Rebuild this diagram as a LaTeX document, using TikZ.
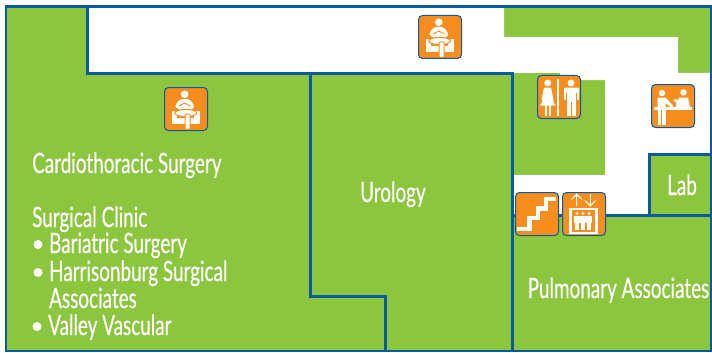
\documentclass[tikz,border=0pt]{standalone}
\usepackage{fontspec}
\setmainfont[FakeStretch=0.675,FakeBold=0.35]{Lato}
\usepackage{tikz}
\usetikzlibrary{positioning}
\definecolor{roomgreen}{HTML}{8CC63F}
\definecolor{wallblue}{HTML}{0A5A9E}
\definecolor{signorange}{HTML}{F78D1F}
\tikzset{
  roomlabel/.style={text=white,font=\fontsize{28}{28}\selectfont,inner sep=0pt,anchor=base west},
  wall/.style={draw=wallblue,line width=3pt,line join=miter},
  signbox/.style={draw=wallblue,line width=1pt,fill=signorange,rounded corners=4pt,minimum size=43pt,inner sep=0pt},
  pics/waiting/.style={code={
    \node[signbox] (-box) at (0,0) {};
    \fill[white] (-1.3,-14.7) circle (3.8);
    \fill[white] (-14.3,2.3) rectangle (-9,14.7);
    \fill[white] (8,2.3) rectangle (13.7,14.7);
    \fill[white] (-14.3,9) rectangle (13.7,14.7);
    \fill[white] (-4,-10) .. controls (-8,-9) and (-10.5,-5) .. (-10.5,-2) -- (-6,1) -- (5,1) -- (8,-2) .. controls (8,-5) and (5,-9) .. (1.5,-10) -- cycle;
    \draw[signorange,line width=0.9pt] (-7,-3) -- (-1.3,-6) -- (4.5,-3);
    \fill[white,draw=signorange,line width=1pt] (-0.3,4) ellipse (11 and 3.6);
    \fill[white,draw=signorange,line width=1pt,rounded corners=1pt] (-1,5) rectangle (4,20.5);
  }},
  pics/restroom/.style={code={
    \node[signbox] (-box) at (0,0) {};
    \fill[white] (-11.3,-14) circle (3.5);
    \fill[white] (12,-14) circle (3.5);
    \fill[white] (-2.3,-18.5) rectangle (0.4,18.5);
    % woman
    \fill[white] (-15,-9.5) -- (-8,-9.5) -- (-5.5,3) -- (-7,4) -- (-8.5,0) -- (-3.5,8.5) -- (-19,8.5) -- (-14,0) -- (-15.5,4) -- (-17.5,3) -- cycle;
    \fill[white] (-14.5,8) rectangle (-12.2,18.5);
    \fill[white] (-10.5,8) rectangle (-8.2,18.5);
    % man
    \fill[white,rounded corners=1pt] (5,-9.5) rectangle (20,3);
    \fill[signorange] (7,-4) rectangle (7.9,3.5);
    \fill[signorange] (17.2,-4) rectangle (18.1,3.5);
    \fill[white] (7.9,0) rectangle (17.2,5);
    \fill[white] (7.9,4) rectangle (11.9,18.5);
    \fill[white] (13,4) rectangle (17.2,18.5);
  }},
  pics/reception/.style={code={
    \node[signbox] (-box) at (0,0) {};
    \fill[white] (-11,-13) circle (3.2);
    \fill[white] (10.5,-13.5) circle (3.2);
    \fill[white] (-18.7,1.3) rectangle (19,4.3);
    \fill[white] (-15.5,-8.5) -- (-7.5,-8.5) -- (0.5,0) -- (-2,1.5) -- (-7.5,-3) -- (-7.5,1.5) -- (-15.5,1.5) -- cycle;
    \fill[white] (-15.5,3) rectangle (-12,18.5);
    \fill[white] (-11,3) rectangle (-7.5,18.5);
    \fill[white] (0,-6) -- (3,-7) -- (5,-5) -- (6,-8.5) -- (15,-8.5) -- (17,1.5) -- (3,1.5) -- (3.5,-3) -- cycle;
  }},
  pics/stairs/.style={code={
    \node[signbox] (-box) at (0,0) {};
    \draw[white,line width=4.4pt] (-20,14.7) -- (-7.5,14.7) -- (-7.5,3.7) -- (1,3.7) -- (1,-5.5) -- (9,-5.5) -- (9,-15) -- (19,-15);
  }},
  pics/elevator/.style={code={
    \node[signbox] (-box) at (0,0) {};
    \draw[white,line width=1pt] (-7.3,-8) -- (-7.3,-20) (-12.5,-14.5) -- (-7.3,-20) -- (-2,-14.5);
    \draw[white,line width=1pt] (6.3,-20) -- (6.3,-8) (1,-13.5) -- (6.3,-8) -- (11.5,-13.5);
    \draw[white,line width=2.6pt] (-13.7,-5) rectangle (12.3,19);
    \foreach \px in {-7,-1,5}{
      \fill[white] (\px,-0.5) circle (1.6);
      \fill[white] (\px-2.6,1.5) rectangle (\px+2.6,9);
      \fill[white] (\px-2,9) rectangle (\px+2,15.5);
    }
  }},
}
\begin{document}
\begin{tikzpicture}[x=1pt,y=-1pt,node distance=27pt,on grid]
  \useasboundingbox (0,0) rectangle (712,353);
  % floor and corridor
  \fill[roomgreen] (6,6) rectangle (711,351);
  \fill[white] (87,6) -- (504,6) -- (504,37) -- (678,37) -- (678,73) -- (711,73) -- (711,154)
    -- (649,154) -- (649,215) -- (512,215) -- (512,175) -- (605,175) -- (605,80) -- (560,80)
    -- (560,73) -- (87,73) -- cycle;
  % walls
  \draw[wall,line width=2.5pt] (6,6.5) -- (711,6.5) -- (711,351) -- (6,351) -- cycle;
  \draw[wall] (87,6) -- (87,74) -- (512,74) -- (512,351);
  \draw[wall] (310,74) -- (310,296) -- (385,296) -- (385,351);
  \draw[wall] (512,215) -- (711,215);
  \draw[wall] (649,215) -- (649,154) -- (711,154);
  % signs
  \pic (waitwest) at (186,109) {waiting};
  \pic (waitnorth) at (440,37) {waiting};
  \pic (restroom) at (559,97) {restroom};
  \pic (reception) at (673,106) {reception};
  \pic (stairs) at (537,214) {stairs};
  \pic (elevator) at (584,214) {elevator};
  % rooms
  \node[roomlabel] (cardio) at (32,173) {Cardiothoracic Surgery};
  \node[roomlabel] (clinic) at (32,227) {Surgical Clinic};
  \node[roomlabel] (bariatric) [below=26pt of clinic.base west,xshift=17pt,anchor=base west] {Bariatric Surgery};
  \node[roomlabel] (harrisonburg) [below=28pt of bariatric.base west,anchor=base west] {Harrisonburg Surgical};
  \node[roomlabel] (associates) [below=27pt of harrisonburg.base west,anchor=base west] {Associates};
  \node[roomlabel] (valley) [below=27pt of associates.base west,xshift=-1pt,anchor=base west] {Valley Vascular};
  \node[roomlabel] (urology) at (360,202) {Urology};
  \node[roomlabel] (lab) at (667,195) {Lab};
  \node[roomlabel] (pulmonary) at (527.5,298) {Pulmonary Associates};
  % bullets
  \foreach \item in {bariatric,harrisonburg,valley}{
    \node[fill=white,circle,minimum size=9pt,inner sep=0pt] (dot\item) at ([xshift=-11pt,yshift=8.5pt]\item.base west) {};
  }
\end{tikzpicture}
\end{document}
